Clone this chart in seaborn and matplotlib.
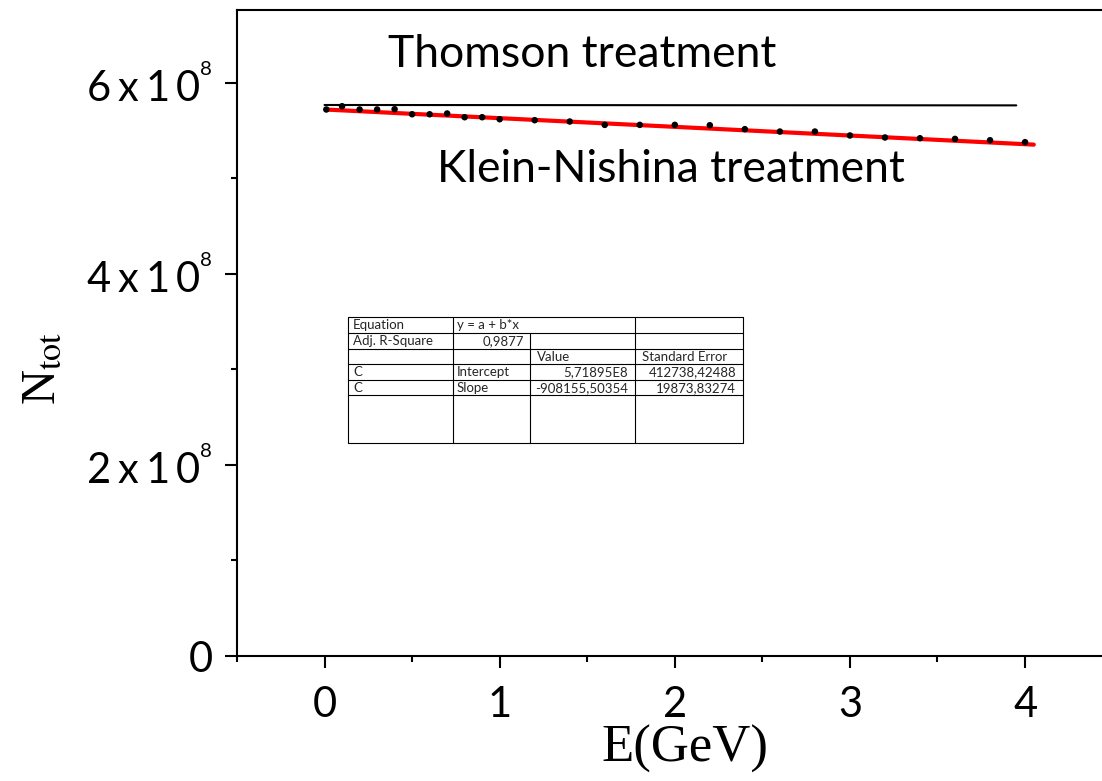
import matplotlib
matplotlib.use("Agg")
import matplotlib.pyplot as plt
import seaborn as sns
import numpy as np
import pandas as pd

# ---------------- data ----------------
energy_gev = [0.01, 0.1, 0.2, 0.3, 0.4, 0.5, 0.6, 0.7, 0.8, 0.9, 1.0,
              1.2, 1.4, 1.6, 1.8, 2.0, 2.2, 2.4, 2.6, 2.8, 3.0,
              3.2, 3.4, 3.6, 3.8, 4.0]
n_tot = [5.719e8, 5.753e8, 5.719e8, 5.719e8, 5.722e8, 5.669e8, 5.669e8, 5.677e8,
         5.638e8, 5.638e8, 5.617e8, 5.607e8, 5.593e8, 5.558e8, 5.558e8, 5.558e8,
         5.554e8, 5.513e8, 5.488e8, 5.488e8, 5.447e8, 5.426e8, 5.418e8, 5.411e8,
         5.397e8, 5.377e8]

thomson_x = [0.0, 3.95]
thomson_y = [5.766e8, 5.762e8]

# linear fit from the inset table (x measured in steps of 0.1 GeV)
fit_intercept = 5.71895e8
fit_slope = -908155.50354
fit_x_step_gev = 0.1
fit_x = [0.02, 4.05]

table_rows = [
    ["Equation", "y = a + b*x", "", ""],
    ["Adj. R-Square", "0,9877", "", ""],
    ["", "", "Value", "Standard Error"],
    ["C", "Intercept", "5,71895E8", "412738,42488"],
    ["C", "Slope", "-908155,50354", "19873,83274"],
]

yticks = [0, 2e8, 4e8, 6e8]
ytick_labels = ["0", r"$2\:x\:1\,0^{{}^{8}}$", r"$4\:x\:1\,0^{{}^{8}}$", r"$6\:x\:1\,0^{{}^{8}}$"]
xticks = [0, 1, 2, 3, 4]

# ---------------- style ----------------
sns.set_theme(style="ticks")
plt.rcParams["font.family"] = ["Lato", "DejaVu Sans"]
plt.rcParams["mathtext.fontset"] = "custom"
plt.rcParams["mathtext.rm"] = "Lato"
plt.rcParams["mathtext.it"] = "Lato:italic"
plt.rcParams["mathtext.bf"] = "Lato:bold"
plt.rcParams["mathtext.default"] = "regular"

W, H = 1102, 781
fig = plt.figure(figsize=(W / 100, H / 100), dpi=100)
ax_left, ax_right, ax_top, ax_bot = 237, 1112.6, 10, 656
ax = fig.add_axes([ax_left / W, 1 - ax_bot / H, (ax_right - ax_left) / W, (ax_bot - ax_top) / H])

df_pts = pd.DataFrame({"E": energy_gev, "N": n_tot})
df_th = pd.DataFrame({"E": thomson_x, "N": thomson_y})
fx = np.array(fit_x)
df_fit = pd.DataFrame({"E": fx, "N": fit_intercept + fit_slope * fx / fit_x_step_gev})

sns.lineplot(data=df_th, x="E", y="N", ax=ax, color="black", linewidth=1.5, zorder=2)
sns.lineplot(data=df_fit, x="E", y="N", ax=ax, color="#ff0000", linewidth=3.0, zorder=3)
sns.scatterplot(data=df_pts, x="E", y="N", ax=ax, color="black", s=22, edgecolor="none", zorder=4)

ax.set_xlim(-0.5, 4.5)
ax.set_ylim(0, 6.76e8)
ax.set_xticks(xticks)
ax.set_xticklabels([str(v) for v in xticks])
ax.set_xticks(np.arange(-0.5, 4.51, 0.5), minor=True)
ax.set_yticks(yticks)
ax.set_yticklabels(ytick_labels)
ax.set_yticks(np.arange(1e8, 6.8e8, 2e8), minor=True)

for s in ["left", "bottom", "top", "right"]:
    ax.spines[s].set_visible(True)
    ax.spines[s].set_linewidth(1.5)
    ax.spines[s].set_color("black")

ax.tick_params(axis="both", which="major", length=8.6, width=1.5, color="black",
               labelsize=30, labelcolor="black", direction="out")
ax.tick_params(axis="both", which="minor", length=4.3, width=1.5, color="black", direction="out")
ax.tick_params(axis="x", which="major", pad=13)
ax.tick_params(axis="y", which="major", pad=9)

ax.set_xlabel("E(GeV)", fontsize=38, family="Liberation Serif", color="black")
ax.xaxis.set_label_coords((685 - ax_left) / (ax_right - ax_left), -0.107)
ax.set_ylabel(r"N$_{\mathrm{tot}}$", fontsize=35, family="Liberation Serif", color="black",
              math_fontfamily="stix")
ax.yaxis.set_label_coords(-(ax_left - 64) / (ax_right - ax_left), (ax_bot - 368) / (ax_bot - ax_top))

fig.text(388 / W, 1 - 66.7 / H, "Thomson treatment", fontsize=32, ha="left", va="baseline", color="black")
fig.text(437 / W, 1 - 181.7 / H, "Klein-Nishina treatment", fontsize=32, ha="left", va="baseline", color="black")

# ---------------- inset fit table ----------------
t_l, t_r, t_t, t_b = 348, 743, 317, 443
tax = fig.add_axes([t_l / W, 1 - t_b / H, (t_r - t_l) / W, (t_b - t_t) / H])
tax.set_xlim(t_l, t_r)
tax.set_ylim(t_b, t_t)
tax.axis("off")
row_lines = [317, 332.5, 348.5, 364, 379.5, 395, 443]
col_lines = [348, 452.5, 530, 635, 743]
lw = 0.8
for y in row_lines:
    tax.plot([t_l, t_r], [y, y], color="black", lw=lw, solid_capstyle="butt", clip_on=False)
for i, x in enumerate(col_lines):
    if i == 2:
        tax.plot([x, x], [row_lines[1], t_b], color="black", lw=lw, clip_on=False)
    else:
        tax.plot([x, x], [t_t, t_b], color="black", lw=lw, clip_on=False)

text_y = [325.3, 341, 356.8, 372.2, 387.7, 403.5]
fs = 9.5
for r, row in enumerate(table_rows):
    y = text_y[r]
    c0, c1, c2, c3 = row
    tax.text(353, y, c0, fontsize=fs, va="center", ha="left")
    if r == 1:
        tax.text(524, y, c1, fontsize=fs, va="center", ha="right")
    else:
        tax.text(457, y, c1, fontsize=fs, va="center", ha="left")
    if r == 2:
        tax.text(537, y, c2, fontsize=fs, va="center", ha="left")
        tax.text(642, y, c3, fontsize=fs, va="center", ha="left")
    else:
        tax.text(628, y, c2, fontsize=fs, va="center", ha="right")
        tax.text(736, y, c3, fontsize=fs, va="center", ha="right")

fig.savefig("out.png", dpi=100, facecolor="white")
